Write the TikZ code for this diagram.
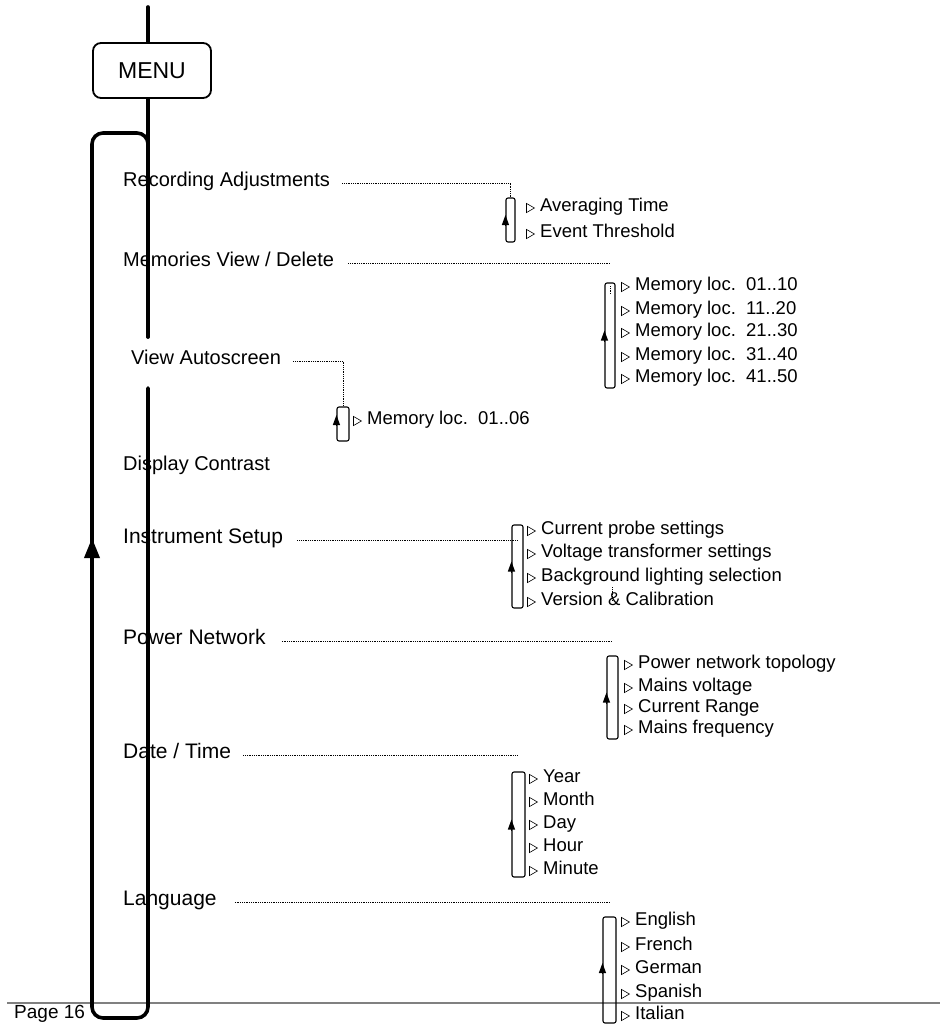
\documentclass[tikz,border=0pt]{standalone}
\usepackage{fontspec}
\setmainfont{Liberation Sans}
\usetikzlibrary{arrows.meta,shapes.geometric,calc,positioning}
\definecolor{FootGray}{HTML}{808080}
\tikzset{
  mainline/.style={line width=3.6pt,line cap=round},
  menubox/.style={rectangle,draw,line width=1.8pt,rounded corners=8pt,minimum width=118pt,minimum height=55pt,font=\fontsize{23}{27}\selectfont},
  mainitem/.style={anchor=west,inner sep=0pt,text height=0.72em,text depth=0pt,font=\fontsize{20}{24}\selectfont},
  subitem/.style={anchor=west,inner sep=0pt,text height=0.72em,text depth=0pt,font=\fontsize{18.5}{22}\selectfont,label={[marker]left:{}}},
  marker/.style={regular polygon,regular polygon sides=3,shape border rotate=-90,draw,line width=0.6pt,inner sep=0pt,minimum size=10.5pt,label distance=5pt},
  subbox/.style={rectangle,draw,line width=1.1pt,rounded corners=2pt,inner sep=0pt,minimum width=11pt},
  dotline/.style={densely dotted,line width=0.8pt},
  uparrow/.style={-{Triangle[length=10pt,width=7pt]},line width=1.1pt},
  bigarrow/.style={-{Triangle[length=20pt,width=15pt]},line width=3.6pt},
}

\begin{document}
\begin{tikzpicture}[x=1pt,y=-1pt]
  \useasboundingbox (0,0) rectangle (940,1028);

  % ── footer ──
  \coordinate (footL) at (7,1003);
  \coordinate (footR) at (940,1003);
  \draw[FootGray,line width=1.2pt] (footL) -- (footR);
  \node[mainitem,font=\fontsize{19}{23}\selectfont] (page) at (14,1015) {Page 16};

  % ── menu spine ──
  \node[menubox] (menu) at (152,70.5) {MENU};
  \coordinate (top) at (148,7);
  \coordinate (gapA) at (148,337);
  \coordinate (gapB) at (148,388);
  \coordinate (loopNE) at (148,133);
  \coordinate (loopNW) at (92,133);
  \coordinate (loopSW) at (92,1018);
  \coordinate (loopSE) at (148,1018);

  \draw[mainline] (top) -- (top |- menu.north);
  \draw[mainline] (menu.south -| top) -- (gapA);
  \draw[mainline,rounded corners=11pt] (gapB) -- (loopSE) -- (loopSW) -- (loopNW) -- (loopNE) -- (gapA);
  \draw[bigarrow] ($(loopSW)+(0,-458)$) -- ($(loopSW)+(0,-480)$);

  % ── main entries ──
  \node[mainitem] (rec) at (123,183) {Recording Adjustments};
  \node[mainitem] (mem) at (123,263) {Memories View / Delete};
  \node[mainitem] (auto) at (131,361) {View Autoscreen};
  \node[mainitem] (disp) at (123,467) {Display Contrast};
  \node[mainitem,font=\fontsize{21}{25}\selectfont] (inst) at (123,540) {Instrument Setup};
  \node[mainitem,font=\fontsize{21}{25}\selectfont] (pow) at (123,641) {Power Network};
  \node[mainitem,font=\fontsize{21}{25}\selectfont] (date) at (123,755) {Date / Time};
  \node[mainitem,font=\fontsize{21}{25}\selectfont] (lang) at (123,902) {Language};

  % ── sub boxes ──
  \node[subbox,minimum width=9pt,minimum height=44pt] (recbox) at (510.5,220) {};
  \node[subbox,minimum width=10pt,minimum height=105pt] (membox) at (610,335.5) {};
  \node[subbox,minimum width=12pt,minimum height=34pt] (autobox) at (343,424) {};
  \node[subbox,minimum height=83pt] (instbox) at (517.5,566.5) {};
  \node[subbox,minimum height=83pt] (powbox) at (612.5,697.5) {};
  \node[subbox,minimum width=13pt,minimum height=105pt] (datebox) at (518.5,824.5) {};
  \node[subbox,minimum width=13pt,minimum height=106pt] (langbox) at (609.5,970) {};

  \draw[uparrow] ($(recbox.west)+(0,6)$) -- ($(recbox.west)+(0,-5)$);
  \draw[uparrow] ($(membox.west)+(0,6)$) -- ($(membox.west)+(0,-5)$);
  \draw[uparrow] ($(autobox.west)+(0,2)$) -- ($(autobox.west)+(0,-9)$);
  \draw[uparrow] ($(instbox.west)+(0,6)$) -- ($(instbox.west)+(0,-5)$);
  \draw[uparrow] ($(powbox.west)+(0,6)$) -- ($(powbox.west)+(0,-5)$);
  \draw[uparrow] ($(datebox.west)+(0,6)$) -- ($(datebox.west)+(0,-5)$);
  \draw[uparrow] ($(langbox.west)+(0,4)$) -- ($(langbox.west)+(0,-7)$);

  % ── dotted links ──
  \draw[dotline] ([xshift=12pt]rec.east) -| (recbox.north);
  \draw[dotline] ([xshift=14pt]mem.east) -- (membox.north |- mem.east);
  \coordinate (memstubA) at (610,286);
  \coordinate (memstubB) at (610,294);
  \draw[dotline] (memstubA) -- (memstubB);
  \draw[dotline] ([xshift=12pt]auto.east) -| (autobox.north);
  \draw[dotline] ([xshift=14pt]inst.east) -- (instbox.center |- inst.east);
  \coordinate (inststubA) at (612,587);
  \coordinate (inststubB) at (612,600);
  \draw[dotline] (inststubA) -- (inststubB);
  \draw[dotline] ([xshift=16pt]pow.east) -- (powbox.north |- pow.east);
  \draw[dotline] ([xshift=12pt]date.east) -- (datebox.north |- date.east);
  \draw[dotline] ([xshift=18pt]lang.east) -- (langbox.north |- lang.east);

  % ── sub entries ──
  \node[subitem] (avg) at (540,208) {Averaging Time};
  \node[subitem] (evt) at (540,234) {Event Threshold};

  \node[subitem] (loc1) at (635,287) {Memory loc.\ \ 01..10};
  \node[subitem] (loc2) at (635,311) {Memory loc.\ \ 11..20};
  \node[subitem] (loc3) at (635,333) {Memory loc.\ \ 21..30};
  \node[subitem] (loc4) at (635,357) {Memory loc.\ \ 31..40};
  \node[subitem] (loc5) at (635,379) {Memory loc.\ \ 41..50};

  \node[subitem] (scr) at (367,421) {Memory loc.\ \ 01..06};

  \node[subitem] (probe) at (541,531) {Current probe settings};
  \node[subitem] (volt) at (541,554) {Voltage transformer settings};
  \node[subitem] (light) at (541,578) {Background lighting selection};
  \node[subitem] (cal) at (541,602) {Version \& Calibration};

  \node[subitem] (topo) at (638,665) {Power network topology};
  \node[subitem] (mvolt) at (638,688) {Mains voltage};
  \node[subitem] (range) at (638,709) {Current Range};
  \node[subitem] (freq) at (638,730) {Mains frequency};

  \node[subitem] (year) at (543,779) {Year};
  \node[subitem] (month) at (543,802) {Month};
  \node[subitem] (day) at (543,825) {Day};
  \node[subitem] (hour) at (543,848) {Hour};
  \node[subitem] (minute) at (543,871) {Minute};

  \node[subitem] (eng) at (635,922) {English};
  \node[subitem] (fre) at (635,947) {French};
  \node[subitem] (ger) at (635,970) {German};
  \node[subitem] (spa) at (635,994) {Spanish};
  \node[subitem] (ita) at (635,1016) {Italian};
\end{tikzpicture}
\end{document}
